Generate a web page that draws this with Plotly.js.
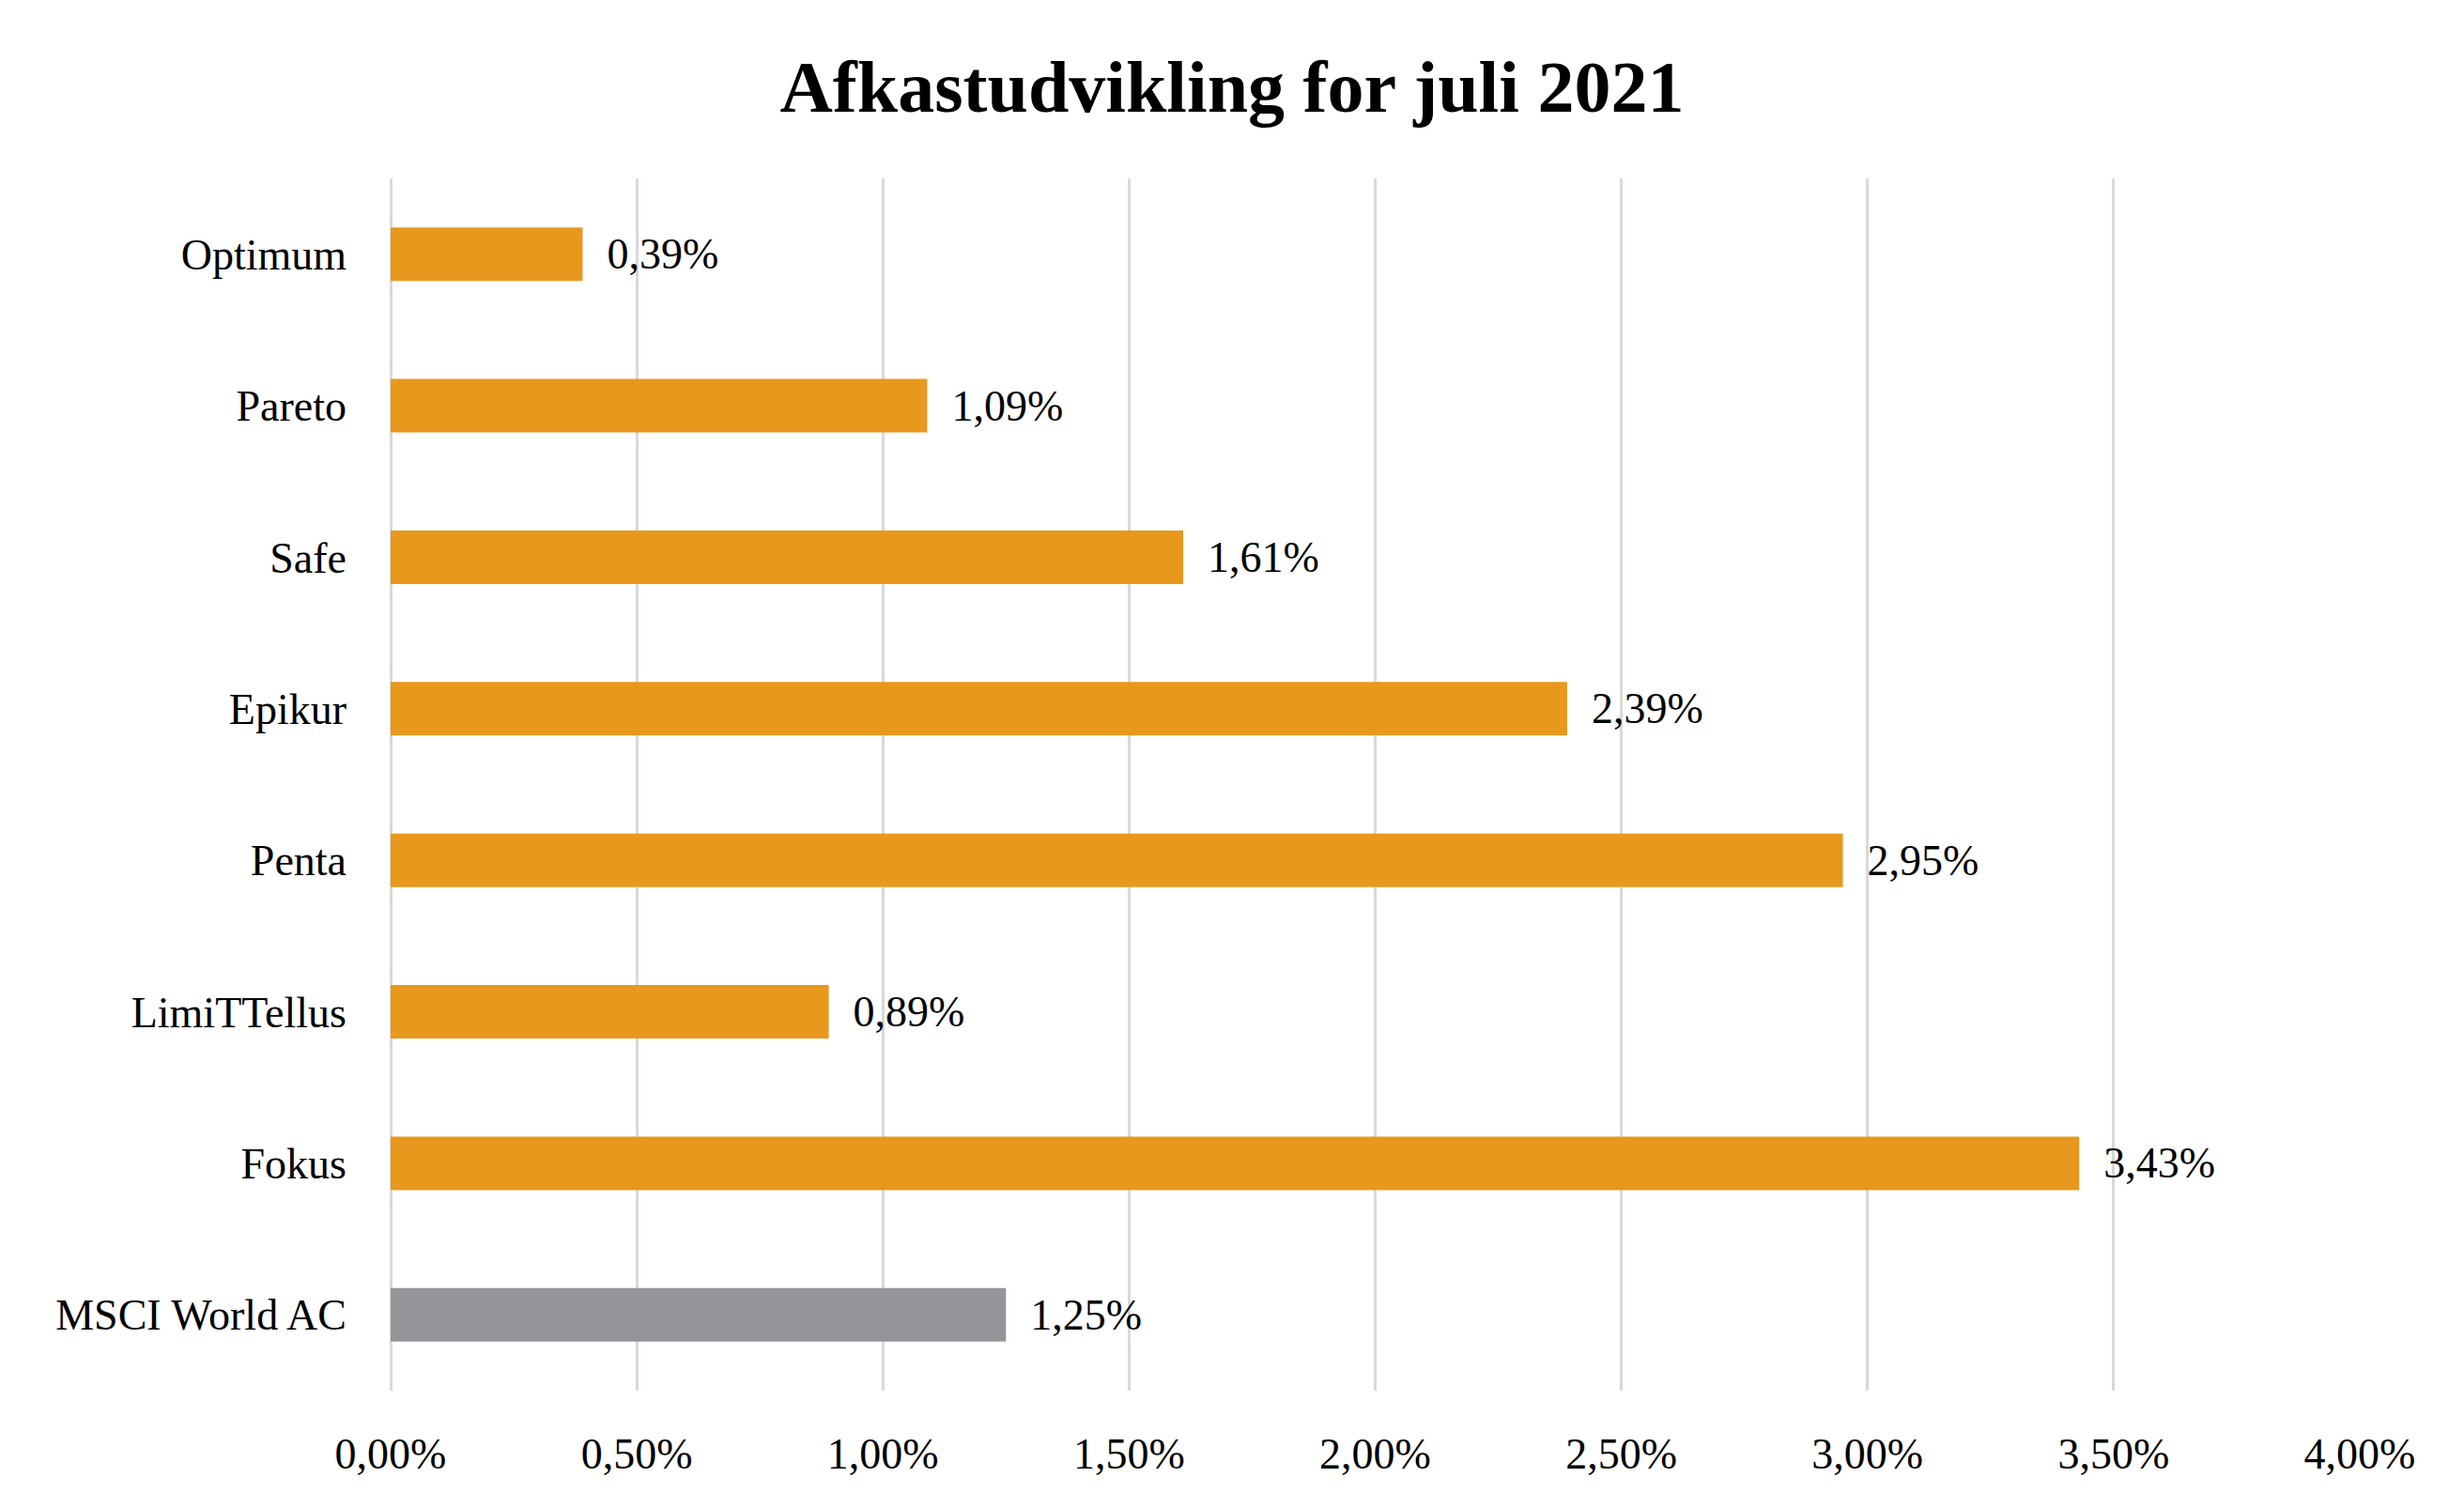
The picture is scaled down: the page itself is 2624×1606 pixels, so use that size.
<!DOCTYPE html>
<html>
<head>
<meta charset="utf-8">
<script src="https://cdn.plot.ly/plotly-3.0.1.min.js"></script>
<style>html,body{margin:0;padding:0;background:#fff;}#chart{width:2624px;height:1606px;}</style>
</head>
<body>
<div id="chart"></div>
<script>
// Data (top to bottom as shown)
const categories = ["Optimum", "Pareto", "Safe", "Epikur", "Penta", "LimiTTellus", "Fokus", "MSCI World AC"];
const returnsPct = [0.39, 1.09, 1.61, 2.39, 2.95, 0.89, 3.43, 1.25];
const barColors = ["#E8981D", "#E8981D", "#E8981D", "#E8981D", "#E8981D", "#E8981D", "#E8981D", "#939598"];
const tickValues = [0, 0.5, 1, 1.5, 2, 2.5, 3, 3.5, 4];
const tickLabels = ["0,00%", "0,50%", "1,00%", "1,50%", "2,00%", "2,50%", "3,00%", "3,50%", "4,00%"];

const fontFam = "'Palatino Linotype', 'Book Antiqua', Palatino, 'Liberation Serif', serif";

const trace = {
  type: "bar",
  orientation: "h",
  y: categories,
  x: returnsPct,
  marker: { color: barColors, line: { width: 0 } },
  texttemplate: "\u00a0\u00a0%{x:.2f}%",
  textposition: "outside",
  textfont: { family: fontFam, size: 46, color: "#000000" },
  constraintext: "none",
  cliponaxis: false,
  hoverinfo: "skip"
};

const layout = {
  width: 2624,
  height: 1606,
  paper_bgcolor: "#ffffff",
  plot_bgcolor: "#ffffff",
  separators: ",.",
  margin: { l: 416, r: 111, t: 190, b: 125 },
  bargap: 0.647,
  showlegend: false,
  title: {
    text: "<b>Afkastudvikling for juli 2021</b>",
    x: 0.5, xref: "container", xanchor: "center",
    y: 0.943, yref: "container", yanchor: "middle",
    font: { family: fontFam, size: 78, color: "#000000" }
  },
  xaxis: {
    range: [0, 4],
    tickmode: "array",
    tickvals: tickValues,
    ticktext: tickLabels,
    showgrid: true,
    gridcolor: "#D9D9D9",
    gridwidth: 3,
    zeroline: true,
    zerolinecolor: "#D9D9D9",
    zerolinewidth: 3,
    showline: false,
    ticks: "",
    ticklabelstandoff: 36,
    tickfont: { family: fontFam, size: 46, color: "#000000" },
    fixedrange: true
  },
  yaxis: {
    autorange: "reversed",
    type: "category",
    showgrid: false,
    zeroline: false,
    showline: false,
    ticks: "",
    ticklabelstandoff: 46,
    tickfont: { family: fontFam, size: 46, color: "#000000" },
    fixedrange: true
  }
};

Plotly.newPlot("chart", [trace], layout, { displayModeBar: false, staticPlot: true });
</script>
</body>
</html>
